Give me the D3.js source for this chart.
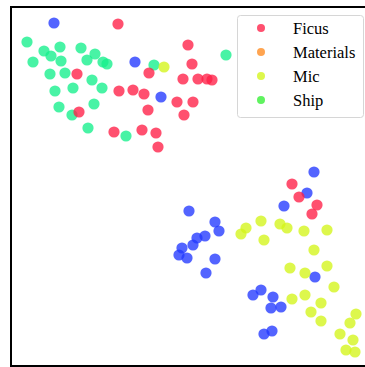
<!DOCTYPE html>
<html>
<head>
<meta charset="utf-8">
<script src="https://cdn.jsdelivr.net/npm/d3@7"></script>
<style>
  html, body { margin: 0; padding: 0; background: #fff; }
  svg { display: block; }
</style>
</head>
<body>
<div id="chart"></div>
<script>
const width = 365;
const height = 367;
const frame = { left: 11, top: 7, right: 368, bottom: 366 };

// series names, legend only lists the first four
const seriesNames = ["Ficus", "Materials", "Mic", "Ship", "Other A", "Other B"];
const legendNames = ["Ficus", "Materials", "Mic", "Ship"];
const seriesColors = ["#ff1f47", "#ff8a1f", "#d4f51a", "#33f033", "#14f08c", "#2338ff"];

// embedding coordinates
const ficusX = [118, 149, 188, 192, 183, 198, 207, 212, 77, 119, 133, 144, 177, 193, 79, 148, 184, 114, 142, 156, 158, 292, 299, 317, 312];
const ficusY = [24, 73, 45, 64, 79, 79, 79, 80, 74, 91, 90, 94, 102, 102, 112, 110, 115, 132, 130, 133, 147, 184, 197, 205, 214];
const materialsX = [];
const materialsY = [];
const micX = [164, 246, 241, 261, 264, 280, 287, 304, 327, 314, 290, 305, 327, 334, 292, 305, 321, 311, 321, 356, 350, 340, 353, 346, 355];
const micY = [67, 228, 234, 221, 240, 224, 228, 231, 230, 250, 268, 273, 266, 287, 299, 295, 303, 312, 321, 314, 323, 334, 340, 350, 352];
const shipX = [];
const shipY = [];
const otherAX = [27, 44, 51, 60, 81, 95, 87, 103, 107, 33, 61, 154, 226, 50, 65, 92, 55, 73, 102, 59, 94, 72, 88, 126];
const otherAY = [42, 51, 56, 47, 48, 54, 60, 62, 64, 62, 61, 65, 55, 74, 73, 80, 91, 88, 88, 107, 104, 115, 128, 136];
const otherBX = [54, 135, 161, 314, 307, 284, 189, 215, 219, 197, 205, 193, 182, 179, 187, 215, 206, 315, 253, 261, 273, 271, 281, 264, 272];
const otherBY = [23, 62, 97, 172, 193, 206, 211, 222, 231, 238, 236, 245, 248, 255, 258, 259, 273, 277, 295, 290, 297, 308, 307, 334, 331];

const seriesX = [ficusX, materialsX, micX, shipX, otherAX, otherBX];
const seriesY = [ficusY, materialsY, micY, shipY, otherAY, otherBY];

const points = [];
seriesNames.forEach((name, i) => {
    seriesX[i].forEach((v, j) => points.push({ name, x: v, y: seriesY[i][j] }));
});

const svg = d3.select("#chart")
    .append("svg")
    .attr("width", width)
    .attr("height", height);

const x = d3.scaleLinear().domain([11, 368]).range([frame.left, frame.right]);
const y = d3.scaleLinear().domain([7, 366]).range([frame.top, frame.bottom]);

const color = d3.scaleOrdinal()
    .domain(seriesNames)
    .range(seriesColors);

// draw order: unlabeled groups first, as in the picture the reds sit on top
const drawOrder = ["Other A", "Other B", "Ship", "Materials", "Mic", "Ficus"];
points.sort((a, b) => drawOrder.indexOf(a.name) - drawOrder.indexOf(b.name));

svg.append("g")
    .selectAll("circle")
    .data(points)
    .enter()
    .append("circle")
    .attr("cx", d => x(d.x))
    .attr("cy", d => y(d.y))
    .attr("r", 5.6)
    .attr("fill", d => color(d.name))
    .attr("fill-opacity", 0.78);

// axes frame
svg.append("rect")
    .attr("x", frame.left)
    .attr("y", frame.top)
    .attr("width", frame.right - frame.left)
    .attr("height", frame.bottom - frame.top)
    .attr("fill", "none")
    .attr("stroke", "#000")
    .attr("stroke-width", 2);

// legend
const legend = svg.append("g").attr("transform", "translate(237,15)");
legend.append("rect")
    .attr("x", 0.5)
    .attr("y", 0.5)
    .attr("width", 126)
    .attr("height", 102)
    .attr("rx", 3)
    .attr("fill", "#fff")
    .attr("fill-opacity", 0.8)
    .attr("stroke", "#d6d6d6");

legendNames.forEach((name, i) => {
    const row = legend.append("g").attr("transform", `translate(0, ${13 + i * 24})`);
    row.append("circle")
        .attr("cx", 24)
        .attr("cy", 0)
        .attr("r", 4)
        .attr("fill", color(name))
        .attr("fill-opacity", 0.78);
    row.append("text")
        .attr("x", 56)
        .attr("y", 5.5)
        .text(name)
        .attr("fill", "#000")
        .attr("font-family", "Liberation Serif, Times New Roman, Times, serif")
        .attr("font-size", 16.5);
});
</script>
</body>
</html>
